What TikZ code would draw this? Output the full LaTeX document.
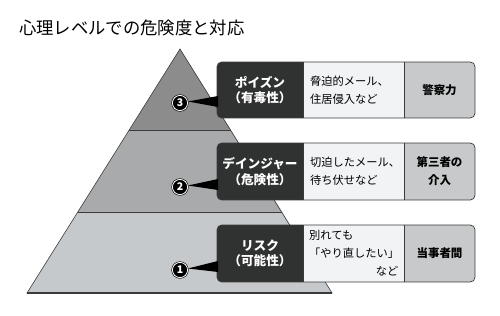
\documentclass[tikz,border=0pt]{standalone}
\usepackage{fontspec}
\newfontfamily\jp{Noto Sans CJK JP}
\definecolor{lvtop}{HTML}{8C8C8C}
\definecolor{lvmid}{HTML}{A9AAAB}
\definecolor{lvbot}{HTML}{C6C9CC}
\definecolor{darkbox}{HTML}{303131}
\definecolor{lightbox}{HTML}{F1F3F5}
\definecolor{graybox}{HTML}{C8C9CA}
\definecolor{edge}{HTML}{3A3A3A}
\tikzset{
  numcirc/.style={circle, fill=black, draw=black, double=white, double distance=0.7pt, line width=0.5pt, inner sep=0pt, minimum size=13pt, text=white, font=\jp\bfseries\fontsize{9}{9}\selectfont},
  darktext/.style={align=center, text=white, font=\jp\bfseries\fontsize{10.8}{13}\selectfont, inner sep=0pt},
  midtext/.style={align=left, text=black, font=\jp\fontsize{9.6}{15.5}\selectfont, inner sep=0pt},
  righttext/.style={align=center, text=black, font=\jp\bfseries\fontsize{9.8}{15.5}\selectfont, inner sep=0pt},
  boxedge/.style={draw=edge, line width=0.6pt},
  wedge/.style={fill=black}
}
\begin{document}
\begin{tikzpicture}[x=0.03cm, y=-0.03cm]
\useasboundingbox[fill=white] (0,0) rectangle (500,316);
% title
\node[anchor=west, inner sep=0pt, font=\jp\fontsize{14.8}{16}\selectfont] (title) at (19,28) {心理レベルでの危険度と対応};
% pyramid
\coordinate (apex) at (180,49);
\coordinate (bl) at (27,293);
\coordinate (br) at (332,293);
\fill[lvtop] (apex) -- (129.2,130) -- (230.8,130) -- cycle;
\fill[lvmid] (129.2,130) -- (77.8,212) -- (282.2,212) -- (230.8,130) -- cycle;
\fill[lvbot] (77.8,212) -- (bl) -- (br) -- (282.2,212) -- cycle;
\draw[edge, line width=0.5pt] (apex) -- (bl) -- (br) -- cycle;
\draw[edge, line width=0.8pt] (129.2,130) -- (230.8,130);
\draw[edge, line width=0.8pt] (77.8,212) -- (282.2,212);
\draw[edge, line width=1pt] (bl) -- (br);
% level boxes
\foreach \T/\B in {62/118, 143/200, 225/282}{
  \begin{scope}
    \clip[rounded corners=4pt] (217,\T) rectangle (475,\B);
    \fill[darkbox] (217,\T) rectangle (303,\B);
    \fill[lightbox] (303,\T) rectangle (404,\B);
    \fill[graybox] (404,\T) rectangle (475,\B);
  \end{scope}
  \draw[boxedge, rounded corners=4pt] (217,\T) rectangle (475,\B);
  \draw[boxedge] (303,\T) -- (303,\B);
  \draw[boxedge] (404,\T) -- (404,\B);
}
% level 3
\node[numcirc] (n3) at (180,103) {3};
\fill[wedge] (n3.east) ++(0,-1.5) -- (218,107) -- (218,96) -- cycle;
\node[darktext] (d3) at (260,90) {ポイズン\\（有毒性）};
\node[midtext, anchor=west] (m3) at (310,90) {脅迫的メール、\\住居侵入など};
\node[righttext] (r3) at (439.5,90) {警察力};
% level 2
\node[numcirc] (n2) at (180,187) {2};
\fill[wedge] (n2.east) ++(0,-1.5) -- (218,190) -- (218,179) -- cycle;
\node[darktext] (d2) at (260,171.5) {デインジャー\\（危険性）};
\node[midtext, anchor=west] (m2) at (310,171.5) {切迫したメール、\\待ち伏せなど};
\node[righttext] (r2) at (439.5,171.5) {第三者の\\介入};
% level 1
\node[numcirc] (n1) at (180,270) {1};
\fill[wedge] (n1.east) ++(0,-1.5) -- (218,272) -- (218,261) -- cycle;
\node[darktext] (d1) at (260,253.5) {リスク\\（可能性）};
\node[midtext, anchor=west, text width=77pt] (m1) at (309,253.5) {別れても\\「やり直したい」\\\hfill など\hspace*{1pt}};
\node[righttext] (r1) at (439.5,253.5) {当事者間};
\end{tikzpicture}
\end{document}
